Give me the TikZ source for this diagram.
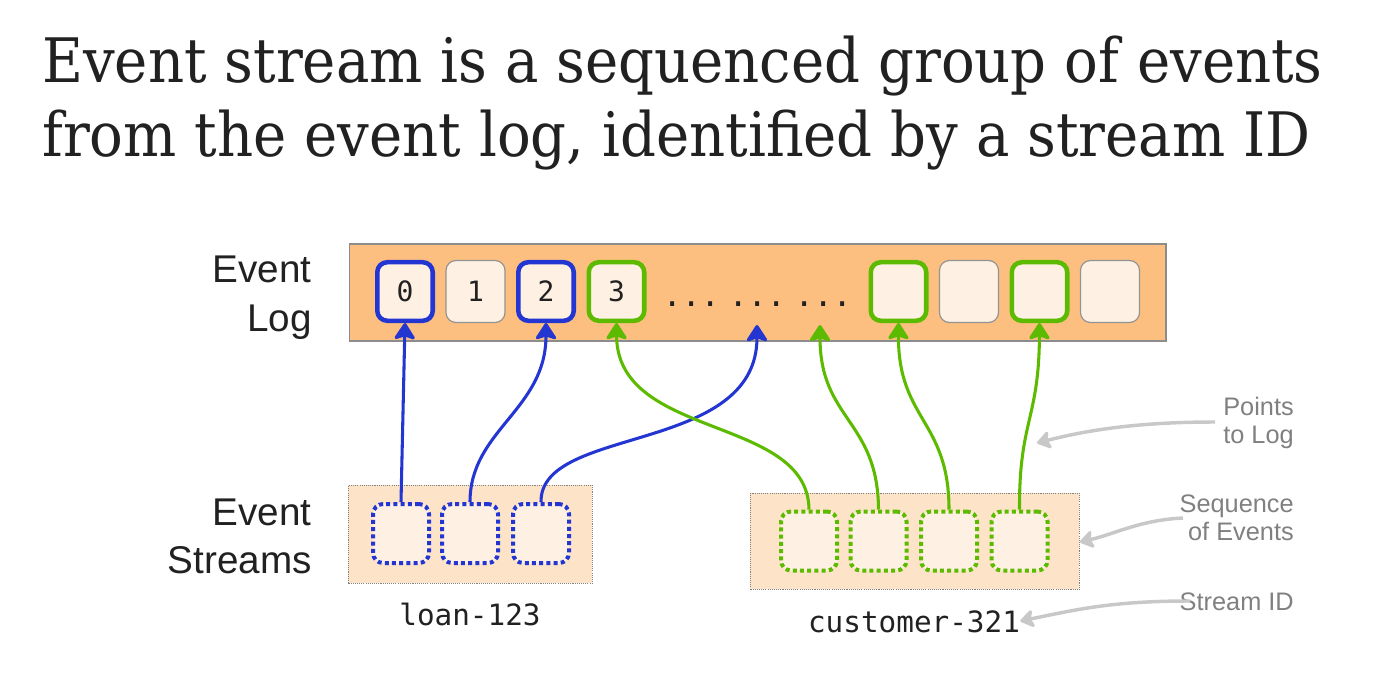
\documentclass[tikz,border=0pt]{standalone}
\usepackage{fontspec}
\setmainfont{Liberation Sans}
\newfontfamily\titlefont{DejaVu Serif}
\newfontfamily\monofont{DejaVu Sans Mono}
\usetikzlibrary{arrows.meta}
\definecolor{logfill}{HTML}{FDBF80}
\definecolor{cellfill}{HTML}{FEF0E3}
\definecolor{strfill}{HTML}{FDE4C8}
\definecolor{bluec}{HTML}{2436D2}
\definecolor{greenc}{HTML}{5CBB00}
\definecolor{grayarr}{HTML}{C8C8C8}
\definecolor{graytxt}{HTML}{808080}
\definecolor{txt}{HTML}{212121}
\newcommand{\onedot}{\makebox[14.25pt]{.}}
\newcommand{\dotgroup}{\onedot\onedot\onedot}
\begin{document}
\begin{tikzpicture}[x=0.75pt,y=-0.75pt,
  cell/.style={draw=gray!85, line width=0.9pt, fill=cellfill, rounded corners=7.5pt,
    minimum width=44.3pt, minimum height=46.5pt, inner sep=0pt,
    font=\monofont\fontsize{21}{21}\selectfont, text=txt},
  bcell/.style={cell, draw=bluec, line width=3.4pt, minimum width=41.6pt, minimum height=43.9pt},
  gcell/.style={cell, draw=greenc, line width=3.4pt, minimum width=41.6pt, minimum height=43.9pt},
  scell/.style={fill=cellfill, rounded corners=7.5pt, line width=3pt,
    dash pattern=on 3pt off 2.4pt, minimum width=42pt, minimum height=44.25pt, inner sep=0pt},
  bscell/.style={scell, draw=bluec},
  gscell/.style={scell, draw=greenc},
  container/.style={draw=gray, fill=strfill, line width=0.7pt, dash pattern=on 0.8pt off 0.8pt,
    inner sep=0pt, anchor=north west},
  titletext/.style={font=\titlefont\fontsize{46}{56}\selectfont, text=txt, anchor=base west, inner sep=0pt},
  label/.style={font=\fontsize{29}{36}\selectfont, text=txt, anchor=base east, inner sep=0pt},
  note/.style={font=\fontsize{19}{21}\selectfont, text=graytxt, anchor=base east, inner sep=0pt},
  mono/.style={font=\monofont\fontsize{22}{22}\selectfont, text=txt, inner sep=0pt, anchor=base},
  link/.style={line width=2.3pt, -{Stealth[length=14pt,width=18pt,inset=3pt,round]}},
  blink/.style={link, draw=bluec, color=bluec},
  glink/.style={link, draw=greenc, color=greenc},
  hint/.style={draw=grayarr, line width=2.6pt, -{Stealth[length=12pt,width=16pt,inset=3pt,round]}}
]
\useasboundingbox (0,0) rectangle (1395,695);

% title
\node[titletext] (t1) at (42,83)
  {\scalebox{0.915}[1]{Event stream is a sequenced group of events}};
\node[titletext] (t2) at (42,157)
  {\scalebox{0.915}[1]{from the event log, identified by a stream ID}};

% labels
\node[label] (lab1) at (312,282) {Event};
\node[label] (lab2) at (312,331) {Log};
\node[label] (lab3) at (312,525) {Event};
\node[label] (lab4) at (312,573) {Streams};

% event log
\node[draw=gray!90, fill=logfill, line width=1.2pt, minimum width=612.6pt, minimum height=72.7pt,
  inner sep=0pt, anchor=north west] (log) at (348.5,243.5) {};
\node[bcell] (L0) at (405,291.5) {0};
\node[cell]  (L1) at (475.5,291.5) {1};
\node[bcell] (L2) at (546,291.5) {2};
\node[gcell] (L3) at (616.5,291.5) {3};
\node[mono, anchor=base west, font=\monofont\fontsize{24}{24}\selectfont] (dots) at (662.5,306)
  {\dotgroup\hspace{6.75pt}\dotgroup\hspace{6.75pt}\dotgroup};
\node[gcell] (La) at (898.5,291.5) {};
\node[cell]  (Lb) at (969,291.5) {};
\node[gcell] (Lc) at (1039.5,291.5) {};
\node[cell]  (Ld) at (1110,291.5) {};
\coordinate (d1) at (757,325);
\coordinate (d2) at (820,325);

% stream containers
\node[container, minimum width=183pt, minimum height=73.5pt] (loan) at (348,485) {};
\node[container, minimum width=246.75pt, minimum height=72pt] (cust) at (750,493) {};
\node[bscell] (S1) at (401,533.5) {};
\node[bscell] (S2) at (470,533.5) {};
\node[bscell] (S3) at (541,533.5) {};
\node[gscell] (C1) at (809,541) {};
\node[gscell] (C2) at (878.5,541) {};
\node[gscell] (C3) at (949,541) {};
\node[gscell] (C4) at (1019.5,541) {};
\node[mono] (loanid) at (470,625) {loan-123};
\node[mono] (custid) at (914,632) {customer-321};

% connectors
\draw[blink] (S1.north) -- (L0.south);
\draw[blink] (S2.north) .. controls (470,430) and (546,410) .. (L2.south);
\draw[blink] (S3.north) .. controls (540,425) and (757,455) .. (d1);
\draw[glink] (C1.north) .. controls (808,415) and (617,440) .. (L3.south);
\draw[glink] (C2.north) .. controls (878,420) and (820,420) .. (d2);
\draw[glink] (C3.north) .. controls (949,420) and (898,420) .. (La.south);
\draw[glink] (C4.north) .. controls (1019,420) and (1039,420) .. (Lc.south);

% notes
\node[note] (n1) at (1294,415) {Points};
\node[note] (n2) at (1294,443) {to Log};
\node[note] (n3) at (1294,512) {Sequence};
\node[note] (n4) at (1294,540) {of Events};
\node[note] (n5) at (1294,610) {Stream ID};
\coordinate (p1) at (1215,422);
\coordinate (p2) at (1183,518);
\coordinate (p3) at (1190,601);
\draw[hint] (p1) .. controls (1130,422) and (1080,432) .. (1037,443);
\draw[hint] (p2) .. controls (1140,520) and (1115,534) .. (cust.east |- 0,542);
\draw[hint] (p3) .. controls (1110,601) and (1075,610) .. (custid.east |- 0,621);
\end{tikzpicture}
\end{document}
